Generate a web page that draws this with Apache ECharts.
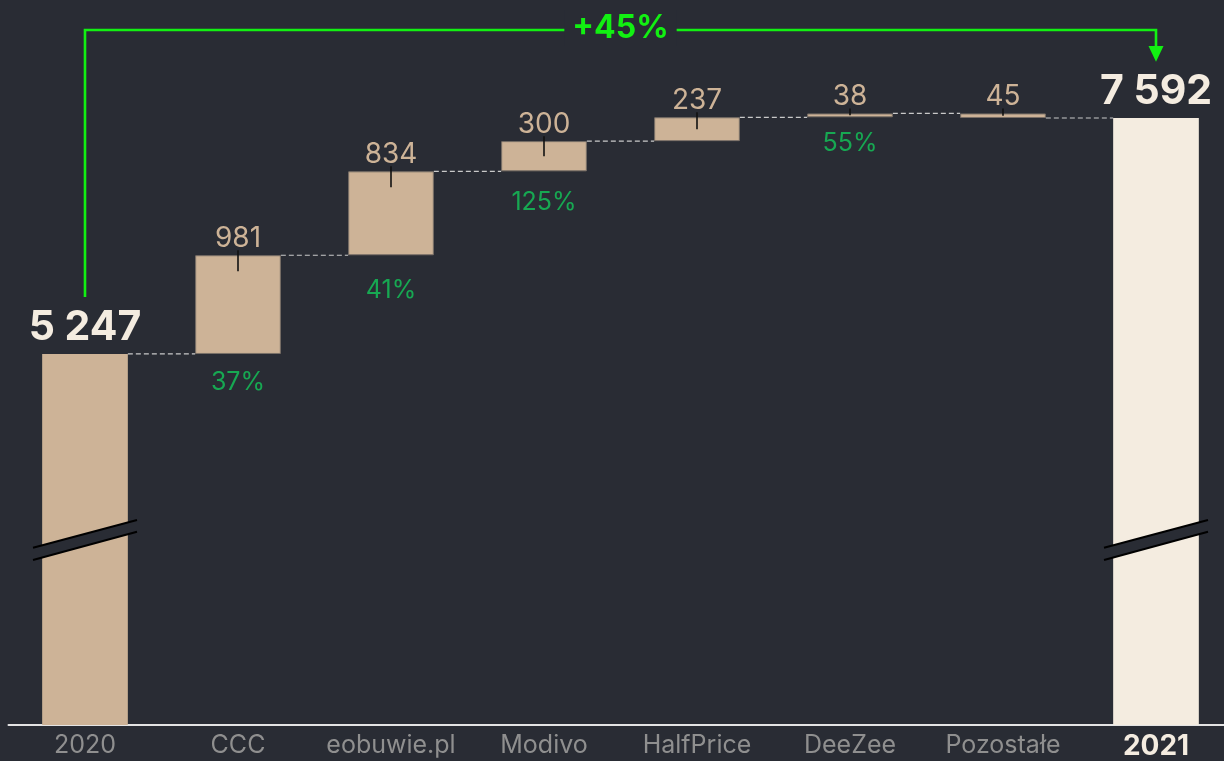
<!DOCTYPE html>
<html>
<head>
<meta charset="utf-8">
<script src="https://cdn.jsdelivr.net/npm/echarts@6/dist/echarts.min.js"></script>
<style>
    html, body { margin: 0; padding: 0; background: #292c34; }
    #chart { width: 1224px; height: 761px; }
</style>
</head>
<body>
<div id="chart"></div>
<script>
// data
var categories = ['2020', 'CCC', 'eobuwie.pl', 'Modivo', 'HalfPrice', 'DeeZee', 'Pozostałe', '2021'];
var startTotal = 5247;
var endTotal = 7592;
var deltas = [981, 834, 300, 237, 38, -45];
var growthLabels = ['', '37%', '41%', '125%', '', '55%', '', ''];
var totalChangeLabel = '+45%';

(function () {
    'use strict';
    var BG = '#292c34';
    var TAN = '#cdb397';
    var CREAM = '#f4ece0';
    var GREEN = '#17a852';
    var LIME = '#12f012';
    var FONT = 'Inter, "Noto Sans", sans-serif';
    var BAR_RATIO = 0.56;
    // distance (px) of the growth text below each bar, placed by hand in the original
    var growthOffsets = [0, 28.5, 35.5, 31, 0, 26, 0, 0];

    var chart = echarts.init(document.getElementById('chart'));

    // waterfall pieces
    var baseData = [0];
    var barData = [startTotal];
    var levels = [startTotal];
    var running = startTotal;
    deltas.forEach(function (d) {
        baseData.push(d >= 0 ? running : running + d);
        barData.push(Math.abs(d));
        running += d;
        levels.push(running);
    });
    baseData.push(0);
    barData.push(endTotal);

    var barItems = barData.map(function (v, i) {
        var last = categories.length - 1;
        if (i === 0 || i === last) {
            return {
                value: v,
                itemStyle: { color: i === 0 ? TAN : CREAM, borderWidth: 0 },
                label: {
                    fontSize: 41, fontWeight: 'bold', color: CREAM, distance: 6,
                    formatter: function (p) { return String(p.value).replace(/\B(?=(\d{3})+(?!\d))/g, ' '); }
                }
            };
        }
        return v;
    });

    // items for tick lines + growth text
    var deltaItems = [];
    for (var i = 1; i <= deltas.length; i++) {
        deltaItems.push([i, baseData[i], baseData[i] + barData[i]]);
    }

    var connectorItems = levels.map(function (lv, i) { return [i, lv]; });

    function renderDelta(params, api) {
        var idx = api.value(0);
        var top = api.coord([idx, api.value(2)]);
        var bottom = api.coord([idx, api.value(1)]);
        var mid = (top[1] + bottom[1]) / 2;
        var children = [{
            type: 'line',
            shape: { x1: top[0], y1: top[1] - 5, x2: top[0], y2: Math.min(top[1] + 16, mid) },
            style: { stroke: '#111', lineWidth: 1.6 }
        }];
        var g = growthLabels[idx];
        if (g) {
            children.push({
                type: 'text',
                style: {
                    text: g, x: top[0], y: bottom[1] + growthOffsets[idx],
                    align: 'center', verticalAlign: 'middle',
                    fill: GREEN, font: '25px ' + FONT
                }
            });
        }
        return { type: 'group', children: children };
    }

    function renderConnector(params, api) {
        var p = api.coord([api.value(0), api.value(1)]);
        var band = api.size([1, 0])[0];
        var half = band * BAR_RATIO / 2;
        return {
            type: 'line',
            shape: { x1: p[0] + half, y1: p[1], x2: p[0] + band - half, y2: p[1] },
            style: { stroke: '#c9c9c9', lineWidth: 1.2, lineDash: [5, 3] }
        };
    }

    function renderBreak(params, api) {
        var cx = api.coord([api.value(0), startTotal])[0];
        var yc = params.coordSys.y + params.coordSys.height - 185;
        var w = 52;
        return {
            type: 'group',
            children: [{
                type: 'polygon',
                shape: { points: [[cx - w, yc + 7.8], [cx + w, yc - 20], [cx + w, yc - 8.3], [cx - w, yc + 20]] },
                style: { fill: BG }
            }, {
                type: 'line',
                shape: { x1: cx - w, y1: yc + 7.8, x2: cx + w, y2: yc - 20 },
                style: { stroke: '#000', lineWidth: 2 }
            }, {
                type: 'line',
                shape: { x1: cx - w, y1: yc + 20, x2: cx + w, y2: yc - 8.3 },
                style: { stroke: '#000', lineWidth: 2 }
            }]
        };
    }

    function renderArrow(params, api) {
        var a = api.coord([0, startTotal]);
        var b = api.coord([categories.length - 1, endTotal]);
        var topY = params.coordSys.y + 5;
        var headTop = b[1] - 72;
        var tip = b[1] - 56.3;
        return {
            type: 'group',
            children: [{
                type: 'polyline',
                shape: { points: [[a[0], a[1] - 57], [a[0], topY], [b[0], topY], [b[0], headTop + 1]] },
                style: { stroke: LIME, lineWidth: 2.6, fill: null }
            }, {
                type: 'polygon',
                shape: { points: [[b[0] - 7.5, headTop], [b[0] + 7.5, headTop], [b[0], tip]] },
                style: { fill: LIME }
            }, {
                type: 'text',
                style: {
                    text: totalChangeLabel, x: (a[0] + b[0]) / 2, y: topY - 2,
                    align: 'center', verticalAlign: 'middle',
                    fill: LIME, font: 'bold 32px ' + FONT,
                    backgroundColor: BG, padding: [2, 8, 2, 8]
                }
            }]
        };
    }

    var option = {
        backgroundColor: BG,
        animation: false,
        grid: { left: 8.5, top: 25, width: 1224, bottom: 36, containLabel: false, outerBoundsMode: 'none' },
        xAxis: {
            type: 'category',
            data: categories,
            axisTick: { show: false },
            axisLine: { lineStyle: { color: '#e4e4e4', width: 2 } },
            axisLabel: {
                interval: 0,
                hideOverlap: false,
                margin: 8,
                color: '#8f8f8f',
                fontSize: 25,
                fontFamily: FONT,
                formatter: function (v, idx) {
                    return idx === categories.length - 1 ? '{b|' + v + '}' : v;
                },
                rich: {
                    b: { fontSize: 28, fontWeight: 'bold', color: CREAM, fontFamily: FONT }
                }
            }
        },
        yAxis: {
            type: 'value',
            min: 1560,
            max: 8516,
            show: false,
            splitLine: { show: false }
        },
        series: [{
            name: 'base',
            type: 'bar',
            stack: 'w',
            barWidth: (BAR_RATIO * 100) + '%',
            itemStyle: { color: 'transparent' },
            silent: true,
            data: baseData
        }, {
            name: 'value',
            type: 'bar',
            stack: 'w',
            itemStyle: { color: TAN, borderColor: '#7a7068', borderWidth: 1 },
            label: {
                show: true,
                position: 'top',
                distance: 3,
                color: TAN,
                fontSize: 28,
                fontFamily: FONT
            },
            data: barItems
        }, {
            type: 'custom',
            renderItem: renderConnector,
            data: connectorItems,
            z: 3
        }, {
            type: 'custom',
            renderItem: renderDelta,
            data: deltaItems,
            z: 4
        }, {
            type: 'custom',
            renderItem: renderBreak,
            data: [[0], [categories.length - 1]],
            z: 4
        }, {
            type: 'custom',
            renderItem: renderArrow,
            data: [[0]],
            clip: false,
            z: 5
        }]
    };

    chart.setOption(option);
})();
</script>
</body>
</html>
